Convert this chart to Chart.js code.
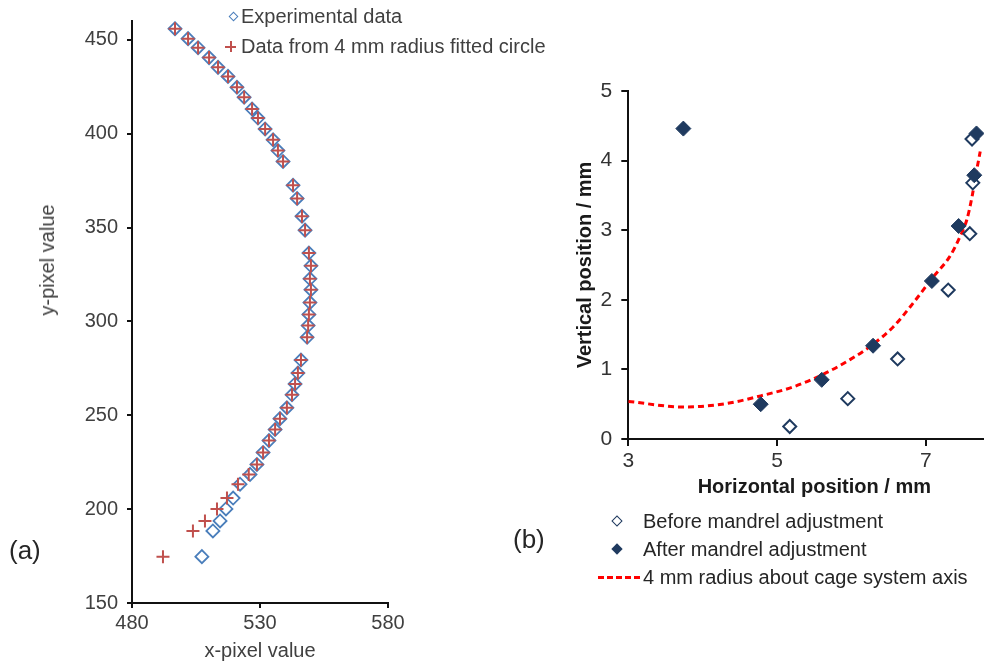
<!DOCTYPE html>
<html><head><meta charset="utf-8">
<script src="https://cdn.jsdelivr.net/npm/chart.js@4.4.1/dist/chart.umd.min.js"></script>
<style>
html,body{margin:0;padding:0;background:#fff;overflow:hidden;width:984px;height:663px;font-family:"Liberation Sans",Arial,sans-serif}
canvas{position:absolute;top:0}
#cA{left:0}
#cB{left:560px}
.t{position:absolute;white-space:nowrap;line-height:1;font-size:20px;color:#404040}
.dia{position:absolute;width:7px;height:7px;transform:rotate(45deg);box-sizing:border-box}
.plus{position:absolute;width:11px;height:11px}
.plus:before,.plus:after{content:"";position:absolute;background:#c0504d}
.plus:before{left:0;top:4.5px;width:11px;height:2px}
.plus:after{left:4.5px;top:0;width:2px;height:11px}
.dash{position:absolute;height:3px;background:repeating-linear-gradient(90deg,#ff0000 0 6px,transparent 6px 9px)}
</style>
</head><body>
<canvas id="cA" width="420" height="663"></canvas>
<canvas id="cB" width="460" height="663"></canvas>

<div class="t" style="left:47px;top:260px;transform:translate(-50%,-50%) rotate(-90deg)">y-pixel value</div>
<div class="dia" style="left:229.5px;top:12.5px;border:1.5px solid #4a7ebb"></div>
<div class="t" style="left:241px;top:6px">Experimental data</div>
<div class="plus" style="left:225px;top:41px"></div>
<div class="t" style="left:241px;top:36px">Data from 4 mm radius fitted circle</div>
<div class="t" style="left:9px;top:537px;font-size:26px;color:#262626">(a)</div>

<div class="dia" style="left:613px;top:517px;width:8px;height:8px;border:1.5px solid #1f3a5f"></div>
<div class="t" style="left:643px;top:511px;color:#262626">Before mandrel adjustment</div>
<div class="dia" style="left:613px;top:545px;width:8px;height:8px;background:#1f3a5f"></div>
<div class="t" style="left:643px;top:539px;color:#262626">After mandrel adjustment</div>
<div class="dash" style="left:598px;top:576px;width:42px"></div>
<div class="t" style="left:643px;top:567px;color:#262626">4 mm radius about cage system axis</div>
<div class="t" style="left:513px;top:526px;font-size:26px;color:#262626">(b)</div>

<script>
const F='"Liberation Sans", Arial, sans-serif';
const BLUE="#4a7ebb",RED="#c0504d",NAVY="#1f3a5f",INK="#111";

// (a) pixel coordinates of the fitted edge
const expX=[496.8,501.9,505.8,510.1,513.6,517.5,521.0,523.8,526.9,529.2,532.0,535.1,537.0,539.0,542.9,544.5,546.4,547.6,549.1,549.9,549.5,549.9,549.5,549.1,548.8,548.4,546.0,544.8,543.7,542.5,540.5,537.8,535.9,533.5,531.2,528.8,526.1,522.2,519.5,516.7,514.4,511.6,507.3];
const expY=[455.9,450.6,445.8,440.5,435.3,430.5,424.7,419.4,413.1,408.3,402.5,396.7,391.0,385.2,372.5,365.5,356.0,348.6,336.4,329.6,322.7,316.9,310.0,303.7,297.8,291.5,279.4,272.5,266.7,260.9,254.0,248.2,242.4,236.5,230.2,223.8,218.5,213.3,205.9,200.1,193.7,188.4,174.7];
const fitX=[496.8,501.9,505.8,510.1,513.6,517.5,521.0,523.8,526.9,529.2,532.0,535.1,537.0,539.0,542.9,544.5,546.4,547.6,549.1,549.9,549.5,549.9,549.5,549.1,548.8,548.4,546.0,544.8,543.7,542.5,540.5,537.8,535.9,533.5,531.2,528.8,525.6,521.4,517.1,513.2,508.5,503.8,492.1];
const fitY=expY;
const xTicksA=[480,530,580];
const yTicksA=[150,200,250,300,350,400,450];

// (b) positions in mm
const beforeX=[5.17,5.95,6.62,7.30,7.59,7.63,7.62];
const beforeY=[0.18,0.58,1.15,2.14,2.95,3.68,4.31];
const afterX=[3.74,4.78,5.60,6.29,7.08,7.44,7.65,7.68];
const afterY=[4.46,0.50,0.85,1.34,2.27,3.06,3.79,4.39];
const circX=[3.00,3.74,4.32,4.78,5.22,5.60,5.98,6.30,6.56,6.79,7.10,7.32,7.46,7.55,7.62,7.67,7.73];
const circY=[0.54,0.46,0.51,0.62,0.75,0.92,1.14,1.37,1.61,1.90,2.33,2.62,2.91,3.15,3.48,3.79,4.13];
const xTicksB=[3,5,7];
const yTicksB=[0,1,2,3,4,5];

const pts=(xs,ys)=>xs.map((x,i)=>({x,y:ys[i]}));
const fixTicks=arr=>s=>{s.ticks=arr.map(v=>({value:v}))};
const axis=tl=>({grid:{drawOnChartArea:false,drawTicks:true,tickLength:tl,color:INK,lineWidth:2,tickColor:INK,tickWidth:2},border:{display:true,color:INK,width:2}});

new Chart(document.getElementById("cA"),{type:"scatter",
  data:{datasets:[
    {label:"Data from 4 mm radius fitted circle",data:pts(fitX,fitY),pointStyle:"cross",pointRadius:6.5,
      pointBorderColor:RED,pointBorderWidth:2,pointBackgroundColor:RED,order:0},
    {label:"Experimental data",data:pts(expX,expY),pointStyle:"rectRot",pointRadius:6.5,
      pointBorderColor:BLUE,pointBorderWidth:1.8,pointBackgroundColor:"rgba(0,0,0,0)",order:1}]},
  options:{responsive:false,animation:false,events:[],
    layout:{padding:{left:0,right:32,top:16,bottom:0}},
    plugins:{legend:{display:false},tooltip:{enabled:false}},
    scales:{
      x:{type:"linear",min:480,max:580,...axis(5),afterBuildTicks:fixTicks(xTicksA),afterFit:s=>{s.height=60},
        ticks:{padding:3,color:"#404040",maxRotation:0,font:{size:20,family:F}},
        title:{display:true,text:"x-pixel value",color:"#404040",font:{size:20,family:F},padding:{top:0,bottom:0}}},
      y:{type:"linear",min:150,max:460,...axis(5),afterBuildTicks:fixTicks(yTicksA),afterFit:s=>{s.width=132},
        ticks:{padding:9,color:"#404040",font:{size:20,family:F}}}
    }}});

new Chart(document.getElementById("cB"),{type:"scatter",
  data:{datasets:[
    {label:"Before mandrel adjustment",data:pts(beforeX,beforeY),pointStyle:"rectRot",pointRadius:6.5,
      pointBorderColor:NAVY,pointBorderWidth:2,pointBackgroundColor:"#fff",order:1},
    {label:"After mandrel adjustment",data:pts(afterX,afterY),pointStyle:"rectRot",pointRadius:7.5,
      pointBorderColor:NAVY,pointBorderWidth:1,pointBackgroundColor:NAVY,order:0},
    {label:"4 mm radius about cage system axis",data:pts(circX,circY),showLine:true,pointRadius:0,
      borderColor:"#ff0000",borderWidth:3,borderDash:[6,4],cubicInterpolationMode:"monotone",order:2}]},
  options:{responsive:false,animation:false,events:[],
    layout:{padding:{left:0,right:19.7,top:91,bottom:164}},
    plugins:{legend:{display:false},tooltip:{enabled:false}},
    scales:{
      x:{type:"linear",min:3,max:8,...axis(7),afterBuildTicks:fixTicks(xTicksB),afterFit:s=>{s.height=60},
        ticks:{padding:3,color:"#333",maxRotation:0,font:{size:21,family:F}},
        title:{display:true,text:"Horizontal position / mm",color:"#1a1a1a",font:{size:20,weight:"bold",family:F},padding:{top:0,bottom:0}}},
      y:{type:"linear",min:0,max:5,...axis(7),afterBuildTicks:fixTicks(yTicksB),afterFit:s=>{s.width=68.3},
        ticks:{padding:9,color:"#333",font:{size:21,family:F}},
        title:{display:true,text:"Vertical position / mm",color:"#1a1a1a",font:{size:20,weight:"bold",family:F},padding:{top:13,bottom:0}}}
    }}});
</script>
</body></html>
